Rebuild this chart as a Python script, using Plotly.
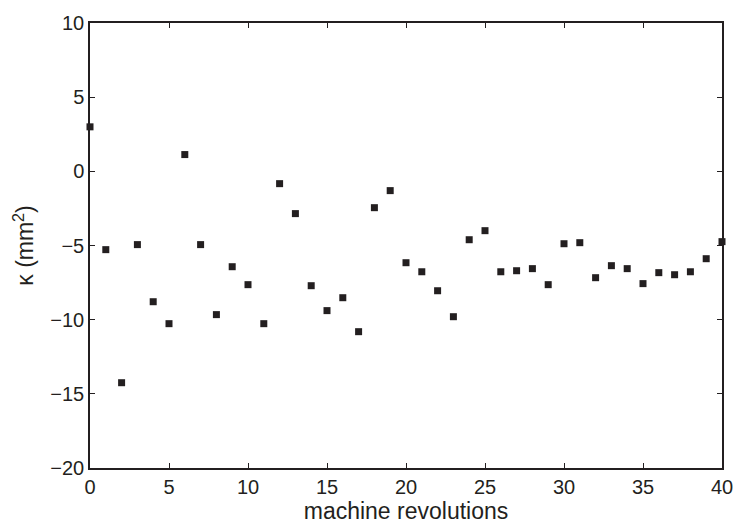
import plotly.graph_objects as go

revolutions = list(range(0, 41))
kappa = [3.0, -5.28, -14.25, -4.94, -8.79, -10.27, 1.13, -4.94, -9.66, -6.43,
         -7.64, -10.27, -0.83, -2.85, -7.71, -9.39, -8.52, -10.81, -2.45, -1.3,
         -6.16, -6.77, -8.05, -9.8, -4.61, -4.0, -6.77, -6.7, -6.56, -7.64,
         -4.88, -4.81, -7.17, -6.36, -6.56, -7.57, -6.83, -6.97, -6.77, -5.89,
         -4.74]
x_ticks = [0, 5, 10, 15, 20, 25, 30, 35, 40]
y_ticks = [-20, -15, -10, -5, 0, 5, 10]

ink = "#231f20"
font_family = "Liberation Sans, Arial, sans-serif"
fig = go.Figure(go.Scatter(
    x=revolutions, y=kappa, mode="markers",
    marker=dict(symbol="square", size=7, color=ink, line=dict(width=0)),
    cliponaxis=False,
))

axis_common = dict(
    showgrid=False, zeroline=False, showline=True, linecolor=ink, linewidth=1.5,
    mirror="ticks", ticks="inside", ticklen=5, tickwidth=1.2, tickcolor=ink,
    automargin=False,
    tickfont=dict(family=font_family, size=20, color=ink),
)

fig.update_layout(
    width=739, height=524,
    margin=dict(l=90, r=17, t=23, b=56),
    paper_bgcolor="white", plot_bgcolor="white",
    showlegend=False,
    xaxis=dict(range=[0, 40], tickvals=x_ticks,
               title=dict(text="machine revolutions", standoff=8,
                          font=dict(family=font_family, size=23, color=ink)),
               **axis_common),
    yaxis=dict(range=[-20, 10], tickvals=y_ticks,
               title=dict(text="κ (mm<sup>2</sup>)", standoff=10,
                          font=dict(family=font_family, size=23, color=ink)),
               **axis_common),
)

fig.write_html("out.html", config={"displayModeBar": False},
               post_script="document.body.style.margin='0';document.body.style.overflow='hidden';")
